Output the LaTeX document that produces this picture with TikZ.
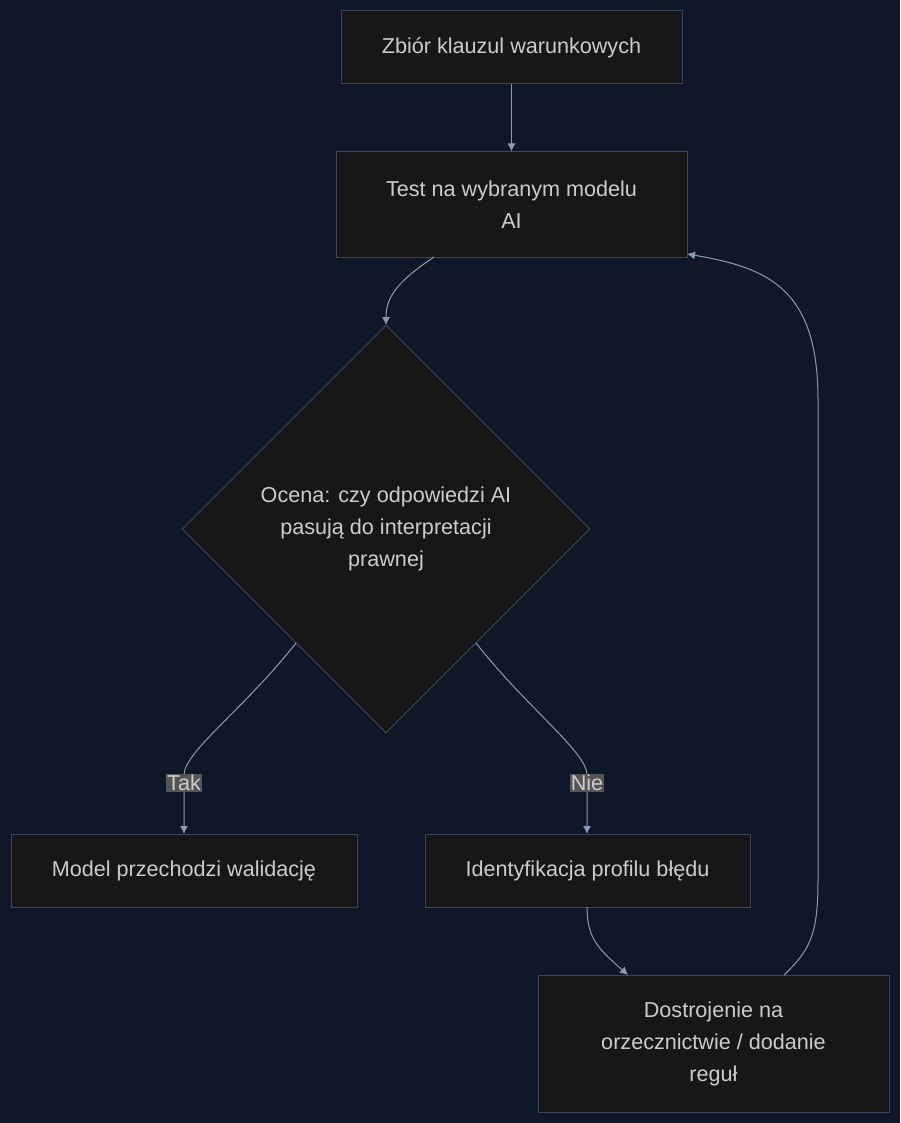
\documentclass[tikz,border=0pt]{standalone}
\usepackage{fontspec}
\setmainfont{Liberation Sans}
\usetikzlibrary{shapes.geometric,arrows.meta}
\definecolor{bg}{HTML}{0F1729}
\definecolor{nf}{HTML}{171717}
\definecolor{nb}{HTML}{3D4656}
\definecolor{tx}{HTML}{CCCCCC}
\definecolor{ln}{HTML}{8A9BB5}
\definecolor{lb}{HTML}{555555}
\begin{document}
\begin{tikzpicture}[x=1pt,y=-1pt,
  box/.style={draw=nb,fill=nf,text=tx,font=\fontsize{21.6}{32}\selectfont,align=center,inner sep=0pt,line width=1pt},
  edge/.style={draw=ln,line width=1pt,-{Latex[length=8pt,width=8pt]}},
  lab/.style={fill=lb,text=tx,font=\fontsize{21.6}{24}\selectfont,inner sep=1pt}]
\fill[bg] (0,0) rectangle (900,1123);
\useasboundingbox (0,0) rectangle (900,1123);
\node[box,minimum width=341pt,minimum height=73pt] (a) at (511.5,47.5) {Zbiór klauzul warunkowych};
\node[box,minimum width=351pt,minimum height=105pt] (b) at (511.5,204.5) {Test na wybranym modelu\\AI};
\node[box,diamond,minimum width=408pt,minimum height=408pt] (d) at (386,529) {Ocena: czy odpowiedzi AI\\pasują do interpretacji\\prawnej};
\node[box,minimum width=346pt,minimum height=73pt] (c) at (184,870.5) {Model przechodzi walidację};
\node[box,minimum width=325pt,minimum height=73pt] (e) at (587.5,870.5) {Identyfikacja profilu błędu};
\node[box,minimum width=351pt,minimum height=137pt] (f) at (713.5,1043.5) {Dostrojenie na\\orzecznictwie / dodanie\\reguł};
\coordinate (bl) at (434,257);
\coordinate (dt) at (386,325);
\coordinate (dl) at (296,643);
\coordinate (dr) at (476,643);
\coordinate (ct) at (184,834);
\coordinate (et) at (587,834);
\coordinate (eb) at (587,907);
\coordinate (ft) at (628,975);
\coordinate (fr) at (784,975);
\coordinate (br) at (687,254);
\draw[edge] (bl) .. controls (400,280) and (386,295) .. (dt);
\draw[edge] (a) -- (b);
\draw[edge] (dl) .. controls (245,708) and (184,752) .. (184,775) -- node[lab,pos=0.14] {Tak} (ct);
\draw[edge] (dr) .. controls (527,708) and (587,752) .. (587,775) -- node[lab,pos=0.14] {Nie} (et);
\draw[edge] (eb) .. controls (587,940) and (600,950) .. (ft);
\draw[edge] (fr) .. controls (810,950) and (818,935) .. (818,880) -- (818,400) .. controls (818,290) and (770,268) .. (br);
\end{tikzpicture}
\end{document}
